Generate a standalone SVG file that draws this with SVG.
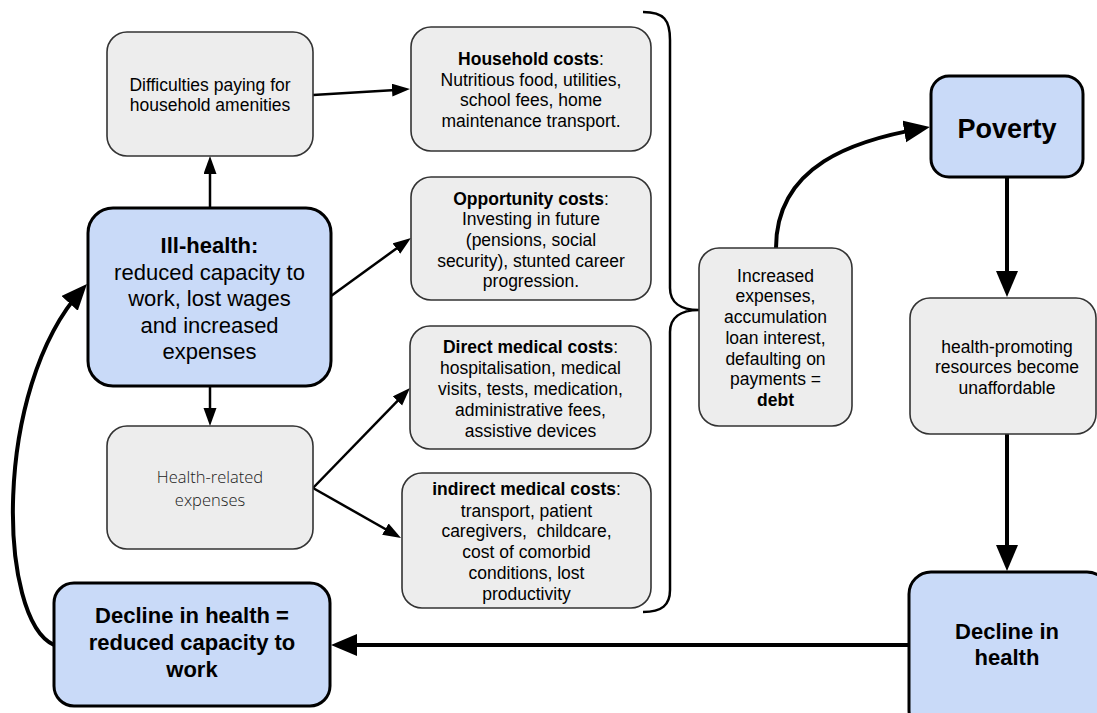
<svg xmlns="http://www.w3.org/2000/svg" width="1097" height="713" viewBox="0 0 1097 713">
<style>
.g{fill:#ededed;stroke:#333;stroke-width:1.6}
.b{fill:#c9daf8;stroke:#000;stroke-width:3}
text{font-family:"Liberation Sans",Arial,sans-serif;font-size:17.5px;fill:#000;text-anchor:middle}
.big{font-size:22px}
.bold{font-weight:bold}
.os{font-family:"Open Sans","Noto Sans",sans-serif;font-weight:300;font-size:16.5px;fill:#1a1a1a}
.thin{fill:none;stroke:#000;stroke-width:2.5}
.thick{fill:none;stroke:#000;stroke-width:4}
</style>
<defs>
<marker id="at" markerUnits="userSpaceOnUse" markerWidth="20" markerHeight="14" refX="12" refY="6.5" orient="auto"><path d="M0,0 L18,6.5 L0,13 z" fill="#000"/></marker>
<marker id="ak" markerUnits="userSpaceOnUse" markerWidth="28" markerHeight="24" refX="18" refY="11" orient="auto"><path d="M0,0 L26,11 L0,22 z" fill="#000"/></marker>
</defs>
<rect width="1097" height="713" fill="#fff"/>
<g id="connectors">
<path class="thin" d="M210,208 L210,162" marker-end="url(#at)"/>
<path class="thin" d="M210,386 L210,420" marker-end="url(#at)"/>
<path class="thin" d="M313,95 L404,89.4" marker-end="url(#at)"/>
<path class="thin" d="M331,296 L406.1,241.5" marker-end="url(#at)"/>
<path class="thin" d="M313,488 L405.8,392.3" marker-end="url(#at)"/>
<path class="thin" d="M313,488 L395.8,535" marker-end="url(#at)"/>
<path class="thick" d="M776,248 C776,165 855,140 922,128.4" marker-end="url(#ak)"/>
<path class="thick" d="M1007,177 L1007,289" marker-end="url(#ak)"/>
<path class="thick" d="M1007,434 L1007,563" marker-end="url(#ak)"/>
<path class="thick" d="M909,645 L339,645" marker-end="url(#ak)"/>
<path class="thick" d="M54,645 C-2,620 -8,390 81.6,290" marker-end="url(#ak)"/>
<path fill="none" stroke="#000" stroke-width="2.5" d="M643,12 C664,12 670,20 670,40 L670,288 C670,302 680,310 699,310 C680,310 670,318 670,332 L670,590 C670,605 662,612 643,612"/>
</g>
<g id="difficulties">
<rect class="g" x="107" y="32" width="206" height="124" rx="20"/>
<text x="210" y="91">Difficulties paying for</text>
<text x="210" y="111">household amenities</text>
</g>
<g id="household">
<rect class="g" x="411" y="27" width="240" height="124" rx="20"/>
<text x="531" y="65"><tspan class="bold">Household costs</tspan>:</text>
<text x="531" y="86">Nutritious food, utilities,</text>
<text x="531" y="106">school fees, home</text>
<text x="531" y="127">maintenance transport.</text>
</g>
<g id="opportunity">
<rect class="g" x="411" y="177" width="240" height="123" rx="20"/>
<text x="531" y="205"><tspan class="bold">Opportunity costs</tspan>:</text>
<text x="531" y="225">Investing in future</text>
<text x="531" y="246">(pensions, social</text>
<text x="531" y="267">security), stunted career</text>
<text x="531" y="287">progression.</text>
</g>
<g id="direct">
<rect class="g" x="410" y="326" width="241" height="123" rx="20"/>
<text x="530.5" y="353"><tspan class="bold">Direct medical costs</tspan>:</text>
<text x="530.5" y="374">hospitalisation, medical</text>
<text x="530.5" y="395">visits, tests, medication,</text>
<text x="530.5" y="416">administrative fees,</text>
<text x="530.5" y="437">assistive devices</text>
</g>
<g id="indirect">
<rect class="g" x="402" y="473" width="249" height="135" rx="20"/>
<text x="526.5" y="495"><tspan class="bold">indirect medical costs</tspan>:</text>
<text x="526.5" y="517">transport, patient</text>
<text x="526.5" y="537" xml:space="preserve">caregivers,  childcare,</text>
<text x="526.5" y="558">cost of comorbid</text>
<text x="526.5" y="579">conditions, lost</text>
<text x="526.5" y="600">productivity</text>
</g>
<g id="illhealth">
<rect class="b" x="88" y="208" width="243" height="178" rx="25"/>
<text class="big bold" x="209.5" y="253">Ill-health:</text>
<text class="big" x="209.5" y="279.5">reduced capacity to</text>
<text class="big" x="209.5" y="306">work, lost wages</text>
<text class="big" x="209.5" y="332.5">and increased</text>
<text class="big" x="209.5" y="359">expenses</text>
</g>
<g id="healthrelated">
<rect class="g" x="107" y="426" width="206" height="123" rx="20"/>
<text class="os" x="210" y="483">Health-related</text>
<text class="os" x="210" y="506">expenses</text>
</g>
<g id="declineleft">
<rect class="b" x="54" y="583" width="276" height="123" rx="20"/>
<text class="big bold" x="192" y="623">Decline in health =</text>
<text class="big bold" x="192" y="650">reduced capacity to</text>
<text class="big bold" x="192" y="677">work</text>
</g>
<g id="debt">
<rect class="g" x="699" y="248" width="153" height="178" rx="20"/>
<text x="775.5" y="282">Increased</text>
<text x="775.5" y="302">expenses,</text>
<text x="775.5" y="323">accumulation</text>
<text x="775.5" y="344">loan interest,</text>
<text x="775.5" y="365">defaulting on</text>
<text x="775.5" y="385">payments =</text>
<text class="bold" x="775.5" y="406">debt</text>
</g>
<g id="poverty">
<rect class="b" x="931" y="76" width="152" height="101" rx="18"/>
<text class="bold" x="1007" y="138" style="font-size:27px">Poverty</text>
</g>
<g id="unaffordable">
<rect class="g" x="910" y="298" width="186" height="136" rx="20"/>
<text x="1007" y="353">health-promoting</text>
<text x="1007" y="373">resources become</text>
<text x="1007" y="394">unaffordable</text>
</g>
<g id="declineright">
<rect class="b" x="909" y="572" width="200" height="160" rx="22"/>
<text class="big bold" x="1007" y="639">Decline in</text>
<text class="big bold" x="1007" y="665">health</text>
</g>
</svg>
